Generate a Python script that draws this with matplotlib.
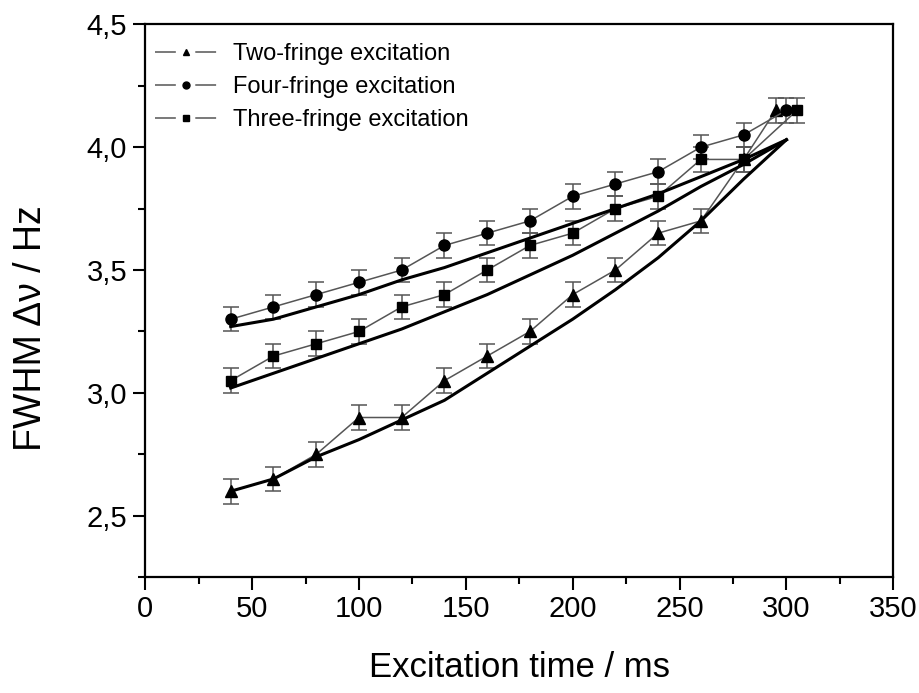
import matplotlib

matplotlib.use("Agg")
import matplotlib.pyplot as plt
from matplotlib.lines import Line2D
from matplotlib.ticker import FuncFormatter, MultipleLocator

plt.rcParams["font.family"] = ["Liberation Sans", "DejaVu Sans"]
plt.rcParams["lines.scale_dashes"] = False

# measured points (last point of each series offset slightly in x)
t_two = [40, 60, 80, 100, 120, 140, 160, 180, 200, 220, 240, 260, 280, 295]
fwhm_two = [2.60, 2.65, 2.75, 2.90, 2.90, 3.05, 3.15, 3.25, 3.40, 3.50, 3.65, 3.70, 3.95, 4.15]

t_four = [40, 60, 80, 100, 120, 140, 160, 180, 200, 220, 240, 260, 280, 300]
fwhm_four = [3.30, 3.35, 3.40, 3.45, 3.50, 3.60, 3.65, 3.70, 3.80, 3.85, 3.90, 4.00, 4.05, 4.15]

t_three = [40, 60, 80, 100, 120, 140, 160, 180, 200, 220, 240, 260, 280, 305]
fwhm_three = [3.05, 3.15, 3.20, 3.25, 3.35, 3.40, 3.50, 3.60, 3.65, 3.75, 3.80, 3.95, 3.95, 4.15]

err = 0.05

# model curves
t_fit = [40, 60, 80, 100, 120, 140, 160, 180, 200, 220, 240, 260, 280, 300]
fit_two = [2.60, 2.65, 2.74, 2.81, 2.89, 2.97, 3.08, 3.19, 3.30, 3.42, 3.55, 3.70, 3.87, 4.03]
fit_four = [3.27, 3.30, 3.35, 3.40, 3.46, 3.51, 3.57, 3.63, 3.69, 3.75, 3.81, 3.88, 3.95, 4.03]
fit_three = [3.02, 3.08, 3.14, 3.20, 3.26, 3.33, 3.40, 3.48, 3.56, 3.65, 3.74, 3.84, 3.93, 4.03]

labels = ["Two-fringe excitation", "Four-fringe excitation", "Three-fringe excitation"]

fig = plt.figure(figsize=(9.19, 6.93), dpi=100)
ax = fig.add_axes([0.158, 0.167, 0.814, 0.798])

grey = "#555555"
series = [
    (t_two, fwhm_two, "^", 8),
    (t_four, fwhm_four, "o", 8),
    (t_three, fwhm_three, "s", 6.5),
]
for t, y, m, ms in series:
    ax.errorbar(t, y, yerr=err, color=grey, lw=1.1, elinewidth=1.1, capsize=5.5,
                capthick=1.1, marker=m, ms=ms, mfc="black", mec="black", zorder=3)

for f in (fit_two, fit_four, fit_three):
    ax.plot(t_fit, f, color="black", lw=2.2, zorder=4)

ax.set_xlim(0, 350)
ax.set_ylim(2.25, 4.5)
ax.xaxis.set_major_locator(MultipleLocator(50))
ax.xaxis.set_minor_locator(MultipleLocator(25))
ax.yaxis.set_major_locator(MultipleLocator(0.5))
ax.yaxis.set_minor_locator(MultipleLocator(0.25))
ax.yaxis.set_major_formatter(FuncFormatter(lambda v, p: f"{v:.1f}".replace(".", ",")))

ax.tick_params(which="major", direction="out", length=9, width=1.5, labelsize=21, pad=4)
ax.tick_params(which="minor", direction="out", length=5, width=1.5)
ax.tick_params(top=False, right=False)
for s in ax.spines.values():
    s.set_linewidth(1.6)

ax.set_xlabel("Excitation time / ms", fontsize=25, labelpad=20)
ax.set_ylabel("FWHM Δν / Hz", fontsize=27)
ax.yaxis.set_label_coords(-0.129, 0.45)

# legend handles: grey line broken around a small black marker
handles = [
    Line2D([], [], color=grey, lw=1.1, dashes=(15, 14), marker=m, ms=5,
           mfc="black", mec="black")
    for m in ("^", "o", "s")
]
ax.legend(handles, labels, loc="upper left", frameon=False, fontsize=17,
          handlelength=2.6, handletextpad=0.7, labelspacing=0.47,
          borderaxespad=0.5, borderpad=0.3, bbox_to_anchor=(-0.012, 1.0))

fig.savefig("out.png", dpi=100)
